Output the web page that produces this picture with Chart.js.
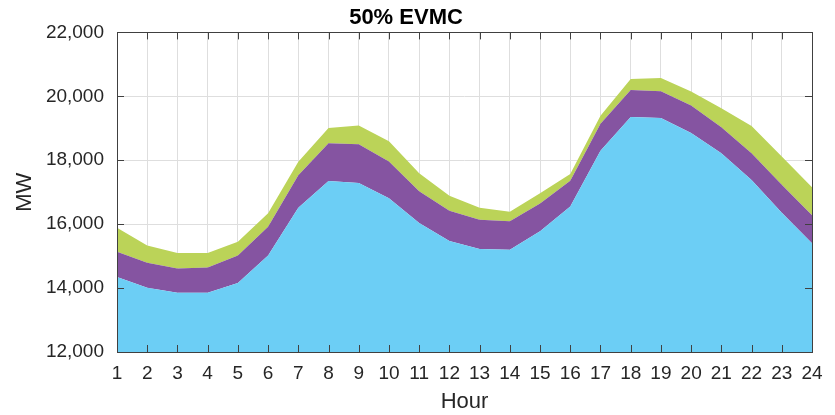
<!DOCTYPE html>
<html>
<head>
<meta charset="utf-8">
<script src="https://cdn.jsdelivr.net/npm/chart.js@4/dist/chart.umd.min.js"></script>
<style>
    html, body { margin: 0; padding: 0; background: #fff; }
    #wrap { width: 835px; height: 415px; }
</style>
</head>
<body>
<div id="wrap"><canvas id="evmc"></canvas></div>
<script>
// Hours of the day
const hours = [1, 2, 3, 4, 5, 6, 7, 8, 9, 10, 11, 12, 13, 14, 15, 16, 17, 18, 19, 20, 21, 22, 23, 24];

// Base demand (MW)
const baseLoad = [14350, 14010, 13850, 13850, 14160, 15020, 16510, 17350, 17290, 16810, 16040, 15470,
                  15220, 15200, 15780, 16550, 18300, 19350, 19320, 18850, 18220, 17380, 16360, 15400];

// Second layer, stacked on the base (MW)
const midLayer = [785, 780, 765, 795, 860, 900, 1020, 1180, 1210, 1150, 990, 950,
                  920, 890, 870, 810, 840, 850, 840, 860, 810, 840, 870, 880];

// Top layer, stacked on the second (MW)
const topLayer = [755, 545, 485, 455, 430, 420, 425, 480, 585, 635, 560, 470,
                  370, 300, 315, 210, 250, 340, 410, 440, 600, 855, 885, 875];

// Y axis ticks
const yTicks = [12000, 14000, 16000, 18000, 20000, 22000];

const textColor = "#262626";
const fontFamily = "'Liberation Sans', Arial, sans-serif";

// Box round the plot with inward ticks on all four sides
const boxPlugin = {
    id: "boxPlugin",
    afterDatasetsDraw(chart) {
        const ctx = chart.ctx;
        const area = chart.chartArea;
        const xs = chart.scales.x;
        const ys = chart.scales.y;
        const len = 7;
        ctx.save();
        ctx.strokeStyle = "#404040";
        ctx.lineWidth = 1;
        ctx.beginPath();
        hours.forEach((h, i) => {
            const px = Math.round(xs.getPixelForValue(i)) + 0.5;
            ctx.moveTo(px, area.bottom);
            ctx.lineTo(px, area.bottom - len);
            ctx.moveTo(px, area.top);
            ctx.lineTo(px, area.top + len);
        });
        yTicks.forEach(v => {
            const py = Math.round(ys.getPixelForValue(v)) + 0.5;
            ctx.moveTo(area.left, py);
            ctx.lineTo(area.left + len, py);
            ctx.moveTo(area.right, py);
            ctx.lineTo(area.right - len, py);
        });
        ctx.stroke();
        ctx.strokeRect(Math.round(area.left) + 0.5, Math.round(area.top) + 0.5,
            Math.round(area.right - area.left), Math.round(area.bottom - area.top));
        ctx.restore();
    }
};

const ctx = document.getElementById("evmc").getContext("2d");
const chart = new Chart(ctx, {
    type: "line",
    data: {
        labels: hours,
        datasets: [
            {
                label: "Base",
                data: baseLoad,
                backgroundColor: "rgb(108, 206, 245)",
                fill: "start"
            },
            {
                label: "Layer 2",
                data: midLayer,
                backgroundColor: "rgb(133, 84, 161)",
                fill: "-1"
            },
            {
                label: "Layer 3",
                data: topLayer,
                backgroundColor: "rgb(187, 211, 88)",
                fill: "-1"
            }
        ]
    },
    options: {
        responsive: true,
        maintainAspectRatio: false,
        animation: false,
        layout: { padding: { left: 0, right: 23, top: 0, bottom: 0 } },
        elements: {
            point: { radius: 0 },
            line: { borderWidth: 0, tension: 0 }
        },
        plugins: {
            legend: { display: false },
            tooltip: { enabled: false },
            title: {
                display: true,
                text: "50% EVMC",
                color: "#000",
                font: { family: fontFamily, size: 22, weight: "bold" },
                padding: { top: 5, bottom: 1 }
            }
        },
        scales: {
            x: {
                offset: false,
                grid: { color: "#dedede", drawTicks: false },
                border: { display: false },
                ticks: {
                    color: textColor,
                    font: { family: fontFamily, size: 19 },
                    padding: 10,
                    maxRotation: 0,
                    autoSkip: false
                },
                title: {
                    display: true,
                    text: "Hour",
                    color: textColor,
                    font: { family: fontFamily, size: 22 },
                    padding: { top: 0, bottom: 0 }
                },
                afterFit(scale) { scale.height = 63; }
            },
            y: {
                stacked: true,
                min: 12000,
                max: 22000,
                grid: { color: "#dedede", drawTicks: false },
                border: { display: false },
                afterBuildTicks(scale) {
                    scale.ticks = yTicks.map(v => ({ value: v }));
                },
                ticks: {
                    color: textColor,
                    font: { family: fontFamily, size: 19 },
                    padding: 13,
                    callback: v => v.toLocaleString("en-US")
                },
                title: {
                    display: true,
                    text: "MW",
                    color: textColor,
                    font: { family: fontFamily, size: 22 },
                    padding: { top: 12, bottom: 0 }
                },
                afterFit(scale) { scale.width = 117; }
            }
        }
    },
    plugins: [boxPlugin]
});
</script>
</body>
</html>
